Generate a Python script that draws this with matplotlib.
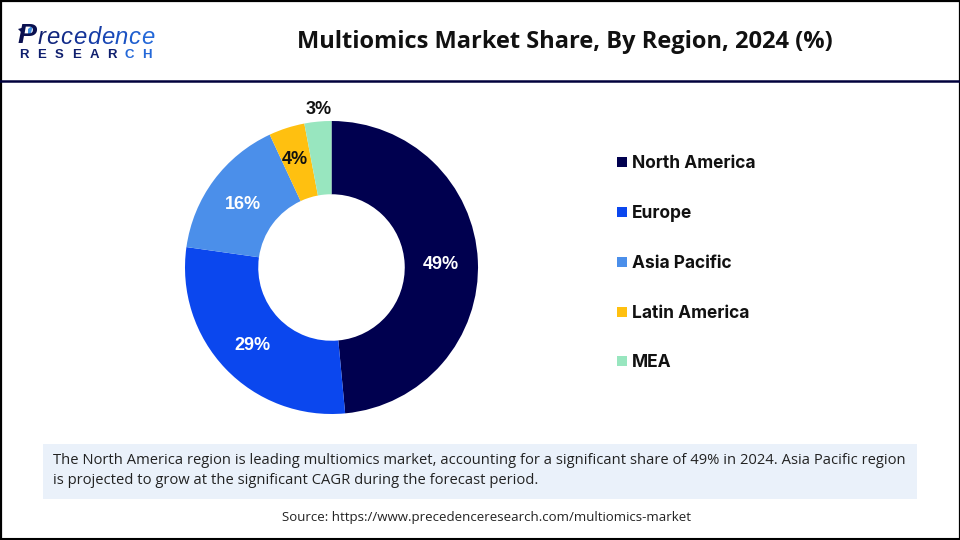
import matplotlib
matplotlib.use("Agg")
import matplotlib.pyplot as plt
from matplotlib.patches import Rectangle, Polygon

regions = ["North America", "Europe", "Asia Pacific", "Latin America", "MEA"]
shares = [49, 29, 16, 4, 3]
colors = ["#00004F", "#0B47EE", "#4B8FEA", "#FFC010", "#98E6BF"]

title = "Multiomics Market Share, By Region, 2024 (%)"
note_lines = [
    "The North America region is leading multiomics market, accounting for a significant share of 49% in 2024. Asia Pacific region",
    "is projected to grow at the significant CAGR during the forecast period.",
]
source = "Source: https://www.precedenceresearch.com/multiomics-market"

W, H = 960, 540
plt.rcParams["font.family"] = ["Liberation Sans", "DejaVu Sans"]

fig = plt.figure(figsize=(W / 100, H / 100), dpi=100, facecolor="white")

# page layer in pixel coordinates
bg = fig.add_axes([0, 0, 1, 1])
bg.set_xlim(0, W)
bg.set_ylim(H, 0)
bg.axis("off")

bg.add_patch(Rectangle((0.5, 0.5), W - 1, H - 1, fill=False, ec="#000000", lw=1.6))
bg.plot([0, W], [81, 81], color="#00003C", lw=1.8)
bg.plot([0, W], [539, 539], color="#000000", lw=1.5)

# logo
bg.text(18, 43, "P", fontsize=20.5, fontweight="bold", style="italic", color="#0A1050", va="baseline")
bg.add_patch(Polygon([(18, 29), (25, 27), (24, 32), (21, 32)], fc="#0A1050", ec="none"))
bg.add_patch(Polygon([(33, 25), (31, 33), (28, 36), (28, 29)], fc="#3F8FE0", ec="none"))

logo_cols = ["#0F1F6E", "#10257C", "#122C8A", "#143498", "#163CA6", "#1846B4", "#1B52C2", "#1E5ECE", "#2468D8"]
fig.canvas.draw()
renderer = fig.canvas.get_renderer()
x = 37.5
for ch, c in zip("recedence", logo_cols):
    t = bg.text(x, 44, ch, fontsize=17.2, style="italic", color=c, va="baseline")
    x += t.get_window_extent(renderer).width + 0.7

for i, ch in enumerate("RESEARCH"):
    c = "#0F1F6E" if i < 6 else "#2468D8"
    bg.text(24 + i * 17.6, 55, ch, fontsize=9.5, fontweight="bold", color=c, ha="center", va="center")

bg.text(565, 42.5, title, fontsize=17, fontweight="bold", color="#111111", ha="center", va="center",
        family=["Open Sans", "DejaVu Sans"])

# legend
legend_y = [164, 214, 264, 314, 363]
for name, c, y in zip(regions, colors, legend_y):
    bg.add_patch(Rectangle((617, y - 7), 10, 10, fc=c, ec="none"))
    bg.text(632, y - 0.5, name, fontsize=12.5, fontweight="bold", color="#111111", va="center",
            family=["Inter", "DejaVu Sans"])

# note box and source
bg.add_patch(Rectangle((43, 444), 874, 55, fc="#EAF1FA", ec="none"))
bg.text(53, 460, note_lines[0], fontsize=10.6, color="#222222", va="center",
        family=["Open Sans", "DejaVu Sans"])
bg.text(53, 480.5, note_lines[1], fontsize=10.6, color="#222222", va="center",
        family=["Open Sans", "DejaVu Sans"])
bg.text(486, 518, source, fontsize=9.5, color="#222222", ha="center", va="center",
        family=["Open Sans", "DejaVu Sans"])

# donut
cx, cy, r = 331.5, 267.5, 146.5
ax = fig.add_axes([(cx - r) / W, 1 - (cy + r) / H, 2 * r / W, 2 * r / H])
wedges, _ = ax.pie(shares, colors=colors, startangle=90, counterclock=False, radius=1,
                   wedgeprops=dict(width=0.5, edgecolor="none"))
ax.set_xlim(-1, 1)
ax.set_ylim(-1, 1)
ax.set_aspect("equal")

# value labels
label_xy = [(441, 264.5), (252, 345), (243, 204.5), (295, 159), (319, 109)]
label_cols = ["white", "white", "white", "#111111", "#111111"]
for v, (x, y), c in zip(shares, label_xy, label_cols):
    bg.text(x, y, f"{v}%", fontsize=13, fontweight="bold", color=c, ha="center", va="center", zorder=5)
bg.set_zorder(2)
bg.patch.set_visible(False)

fig.savefig("out.png", dpi=100)
